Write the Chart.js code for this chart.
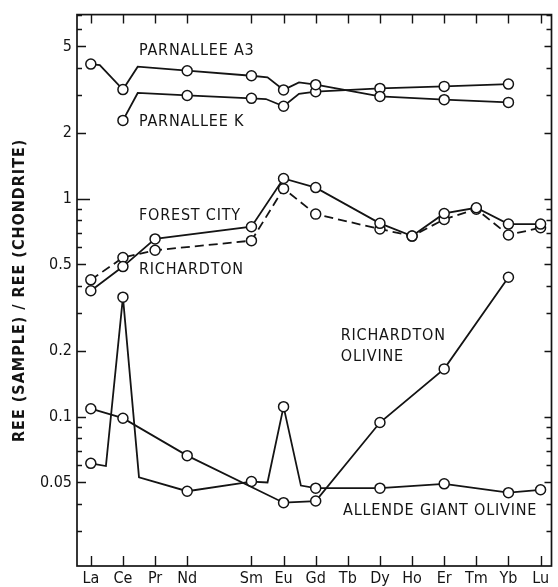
<!DOCTYPE html>
<html>
<head>
<meta charset="utf-8">
<script src="https://cdn.jsdelivr.net/npm/chart.js@4.4.1/dist/chart.umd.min.js"></script>
<style>
  html, body { margin: 0; padding: 0; background: #fff; }
  canvas { display: block; }
</style>
</head>
<body>
<canvas id="ree" width="558" height="587"></canvas>
<script>
// REE abundances normalised to chondrite, one entry per element.
// Pm (index 4) has no data and no tick, so its label is blank.
const elements = ['La', 'Ce', 'Pr', 'Nd', '', 'Sm', 'Eu', 'Gd', 'Tb', 'Dy', 'Ho', 'Er', 'Tm', 'Yb', 'Lu']
const yTickValues = [0.05, 0.1, 0.2, 0.5, 1, 2, 5]

const parnalleeA3 = [4.15, 3.17, null, 3.87, null, 3.67, 3.16, 3.34, null, 2.95, null, 2.85, null, 2.77, null]
const parnalleeK = [null, 2.29, null, 2.98, null, 2.89, 2.66, 3.10, null, 3.21, null, 3.28, null, 3.36, null]
const forestCity = [0.379, 0.489, 0.655, null, null, 0.745, 1.24, 1.126, null, 0.772, 0.675, 0.857, 0.910, 0.766, 0.766]
const richardton = [0.425, 0.538, 0.581, null, null, 0.643, 1.114, 0.851, null, 0.727, 0.675, 0.805, 0.897, 0.683, 0.737]
const richardtonOlivine = [0.109, 0.0986, null, 0.0664, null, null, 0.0404, 0.0411, null, 0.0942, null, 0.166, null, 0.437, null]
const allendeOlivine = [0.0612, 0.354, null, 0.0456, null, 0.0505, 0.1114, 0.0471, null, 0.0471, null, 0.0493, null, 0.0449, 0.0463]

// unmarked corners of the hand-drawn lines: [element index, value]
const parnalleeA3Bends = [[0.28, 4.11], [1.46, 4.04], [5.5, 3.61], [6.48, 3.42]]
const parnalleeKBends = [[1.46, 3.06], [5.45, 2.87], [6.48, 3.03]]
const allendeBends = [[0.47, 0.0595], [1.5, 0.0528], [5.5, 0.0500], [6.54, 0.0484]]

const INK = '#141414'
const FONT = "'DejaVu Sans Condensed', 'DejaVu Sans', sans-serif"

function points(values, bends = []) {
  const pts = []
  values.forEach((v, i) => { if (v != null) pts.push({ x: i, y: v, mark: true }) })
  bends.forEach(([x, y]) => pts.push({ x, y, mark: false }))
  return pts.sort((a, b) => a.x - b.x)
}

function series(label, values, bends, dash) {
  return {
    label,
    data: points(values, bends),
    borderColor: INK,
    borderWidth: 1.8,
    borderDash: dash || [],
    tension: 0,
    fill: false,
    pointRadius: c => (c.raw && c.raw.mark ? 5 : 0),
    pointHoverRadius: 0,
    pointBackgroundColor: '#fff',
    pointBorderColor: INK,
    pointBorderWidth: 1.5
  }
}

// minor log ticks at every integer multiple inside the axis range
function minorTicks(min, max) {
  const out = []
  for (let d = 0.01; d <= 10; d *= 10) {
    for (let m = 1; m <= 9; m++) {
      const v = +(m * d).toPrecision(3)
      if (v >= min && v <= max) out.push(v)
    }
  }
  return out
}

// frame box plus inward-facing ticks on all four sides
const frameTicks = {
  id: 'frameTicks',
  beforeDatasetsDraw(chart) {
    const { ctx, chartArea: a, scales: { x, y } } = chart
    ctx.save()
    ctx.strokeStyle = INK
    ctx.lineWidth = 1.7
    ctx.strokeRect(a.left, a.top, a.right - a.left, a.bottom - a.top)
    ctx.lineWidth = 1.4
    ctx.beginPath()
    elements.forEach((el, i) => {
      if (!el) return
      const px = Math.round(x.getPixelForValue(i)) + 0.5
      ctx.moveTo(px, a.bottom); ctx.lineTo(px, a.bottom - 10)
      ctx.moveTo(px, a.top); ctx.lineTo(px, a.top + 9)
    })
    minorTicks(y.min, y.max).forEach(v => {
      const py = Math.round(y.getPixelForValue(v)) + 0.5
      const major = yTickValues.includes(v)
      const left = v === 1 ? 13 : major ? 9 : 5
      const right = major || v === 1 ? 7 : 5
      ctx.moveTo(a.left, py); ctx.lineTo(a.left + left, py)
      ctx.moveTo(a.right, py); ctx.lineTo(a.right - right, py)
    })
    ctx.stroke()
    ctx.restore()
  }
}

// curve names and the rotated y-axis title
const curveLabels = {
  id: 'curveLabels',
  afterDatasetsDraw(chart, args, opts) {
    const { ctx, chartArea: a, scales: { x, y } } = chart
    ctx.save()
    ctx.fillStyle = INK
    ctx.font = `16px ${FONT}`
    ctx.letterSpacing = '0.8px'
    ctx.textBaseline = 'middle'
    ctx.textAlign = 'left'
    opts.items.forEach(t => {
      ctx.fillText(t.text, x.getPixelForValue(t.x), y.getPixelForValue(t.y))
    })
    ctx.translate(20, (a.top + a.bottom) / 2)
    ctx.rotate(-Math.PI / 2)
    ctx.textAlign = 'center'
    ctx.font = `bold 16px ${FONT}`
    ctx.letterSpacing = '1px'
    ctx.fillText(opts.title, 0, 0)
    ctx.restore()
  }
}

const tickFont = { family: FONT, size: 16 }

new Chart(document.getElementById('ree'), {
  type: 'line',
  data: {
    datasets: [
      series('Parnallee A3', parnalleeA3, parnalleeA3Bends),
      series('Parnallee K', parnalleeK, parnalleeKBends),
      series('Forest City', forestCity),
      series('Richardton', richardton, [], [9, 5]),
      series('Richardton olivine', richardtonOlivine),
      series('Allende giant olivine', allendeOlivine, allendeBends)
    ]
  },
  options: {
    responsive: false,
    animation: false,
    events: [],
    layout: { padding: { top: 12, right: 1, left: 0, bottom: 0 } },
    plugins: {
      legend: { display: false },
      tooltip: { enabled: false },
      curveLabels: {
        title: 'REE (SAMPLE) / REE (CHONDRITE)',
        items: [
          { text: 'PARNALLEE A3', x: 1.5, y: 4.79 },
          { text: 'PARNALLEE K', x: 1.5, y: 2.25 },
          { text: 'FOREST CITY', x: 1.5, y: 0.84 },
          { text: 'RICHARDTON', x: 1.5, y: 0.472 },
          { text: 'RICHARDTON', x: 7.78, y: 0.236 },
          { text: 'OLIVINE', x: 7.78, y: 0.188 },
          { text: 'ALLENDE GIANT OLIVINE', x: 7.85, y: 0.037 }
        ]
      }
    },
    scales: {
      x: {
        type: 'linear',
        min: -0.43,
        max: 14.34,
        grid: { display: false, drawTicks: false },
        border: { display: false },
        afterBuildTicks: s => { s.ticks = elements.map((_, i) => ({ value: i })) },
        afterFit: s => { s.height = 21 },
        ticks: {
          autoSkip: false,
          maxRotation: 0,
          padding: 3,
          color: INK,
          font: tickFont,
          callback: v => elements[v] || ''
        }
      },
      y: {
        type: 'logarithmic',
        min: 0.0207,
        max: 7,
        grid: { display: false, drawTicks: false },
        border: { display: false },
        afterBuildTicks: s => { s.ticks = yTickValues.map(v => ({ value: v })) },
        afterFit: s => { s.width = 77 },
        ticks: {
          padding: 5,
          color: INK,
          font: tickFont,
          callback: v => String(v)
        }
      }
    }
  },
  plugins: [frameTicks, curveLabels]
})
</script>
</body>
</html>
